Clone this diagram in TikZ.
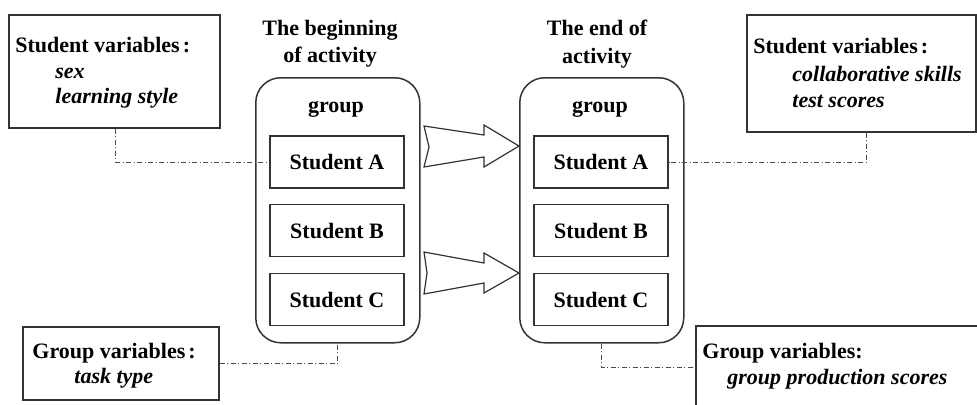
\documentclass[tikz,border=0pt]{standalone}
\usepackage{fontspec}
\setmainfont{Liberation Serif}
\begin{document}
\begin{tikzpicture}[x=0.5pt,y=-0.5pt,
  every node/.style={font=\fontsize{11}{13}\selectfont\bfseries, inner sep=0pt},
  boxline/.style={draw=black!80, line width=0.75pt},
  varbox/.style={boxline, rectangle, anchor=north west},
  grpbox/.style={boxline, rectangle, rounded corners=12.5pt, anchor=north west, minimum width=82pt, minimum height=132.5pt},
  stubox/.style={boxline, rectangle, minimum width=67pt, minimum height=26pt},
  itm/.style={anchor=base west, font=\fontsize{11}{13}\selectfont\bfseries\itshape},
  hd/.style={anchor=base west},
  ttl/.style={anchor=base},
  dd/.style={draw=black!70, line width=0.5pt, dash pattern=on 2.5pt off 1.2pt on 0.6pt off 1.2pt},
  bigarrow/.style={draw=black!80, line width=0.6pt, fill=white, line join=miter}
]
\useasboundingbox (0,0) rectangle (977,404);
\clip (0,0) rectangle (977,404);

% variable boxes
\node[varbox, minimum width=105.5pt, minimum height=56.5pt] (sv1) at (8,14) {};
\node[varbox, minimum width=114.5pt, minimum height=58.5pt] (sv2) at (746,14) {};
\node[varbox, minimum width=98pt, minimum height=36.5pt] (gv1) at (22,326) {};
\node[varbox, minimum width=160pt, minimum height=42pt] (gv2) at (695,325) {};

\node[hd] (sv1h) at (15,52) {Student variables\kern1.5pt:};
\node[itm] (sv1a) at (55,78) {sex};
\node[itm] (sv1b) at (55,103) {learning style};

\node[hd] (sv2h) at (753,53) {Student variables\kern1.5pt:};
\node[itm] (sv2a) at (792,81) {collaborative skills};
\node[itm] (sv2b) at (792,107) {test scores};

\node[hd] (gv1h) at (32,358) {Group variables\kern1.5pt:};
\node[itm] (gv1a) at (74,383) {task type};

\node[hd] (gv2h) at (702,358) {Group variables:};
\node[itm] (gv2a) at (727,384) {group production scores};

% titles
\node[ttl] (t1a) at (330,35) {The beginning};
\node[ttl] (t1b) at (330,62) {of activity};
\node[ttl] (t2a) at (597,35) {The end of};
\node[ttl] (t2b) at (597,63) {activity};

% groups
\node[grpbox] (lg) at (255,77) {};
\node[grpbox] (rg) at (519,77) {};
\node[ttl] (lgt) at (336,112) {group};
\node[ttl] (rgt) at (600,112) {group};

\node[stubox] (lA) at (337,162) {Student A};
\node[stubox] (lB) at (337,230.5) {Student B};
\node[stubox] (lC) at (337,299.5) {Student C};
\node[stubox] (rA) at (601,162) {Student A};
\node[stubox] (rB) at (601,230.5) {Student B};
\node[stubox] (rC) at (601,299.5) {Student C};

% hollow arrows
\draw[bigarrow] (424,126) -- (484,135) -- (484,125) -- (519,146) -- (484,167) -- (484,157) -- (424,167) -- (429,147) -- cycle;
\draw[bigarrow] (424,252) -- (484,263) -- (484,253) -- (519,273) -- (484,293) -- (484,283) -- (424,294) -- (427,273) -- cycle;

% dash-dot connectors
\draw[dd] ([xshift=0.75pt]sv1.south) |- (lA.west);
\draw[dd] ([xshift=2.75pt]sv2.south) |- (rA.east);
\draw[dd] (gv1.east) -| (lg.south);
\draw[dd] (rg.south) |- (gv2.west);
\end{tikzpicture}
\end{document}
